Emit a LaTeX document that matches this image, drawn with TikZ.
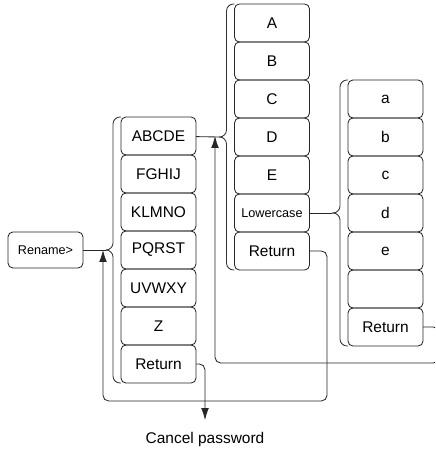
\documentclass[tikz,border=0pt]{standalone}
\usepackage{fontspec}
\setmainfont{Liberation Sans}
\usetikzlibrary{arrows.meta}

\tikzset{
    key/.style={draw=black!85, line width=0.6pt, rounded corners=3.5pt,
        minimum width=1.875cm, minimum height=0.95cm, inner sep=0pt, outer sep=0pt,
        font=\fontsize{11}{13}\selectfont},
    smallkey/.style={key, font=\fontsize{9}{11}\selectfont},
    brace/.style={draw=black!80, line width=0.6pt, rounded corners=5pt},
    link/.style={draw=black!85, line width=0.6pt},
    back/.style={link, rounded corners=4pt, -{Latex[length=8.5pt,width=5.5pt]}},
}

\begin{document}
\begin{tikzpicture}[x=0.025cm,y=-0.025cm]

    \useasboundingbox (0,0) rectangle (435,451);

    % Rename key
    \node[smallkey, minimum height=0.9cm] (rename) at (45.5,250) {Rename>};

    % uppercase groups
    \node[key] (abcde) at (158.5,136) {ABCDE};
    \node[key] (fghij) at (158.5,174) {FGHIJ};
    \node[key] (klmno) at (158.5,212) {KLMNO};
    \node[key] (pqrst) at (158.5,250) {PQRST};
    \node[key] (uvwxy) at (158.5,288) {UVWXY};
    \node[key] (z)     at (158.5,326) {Z};
    \node[key] (ret1)  at (158.5,364) {Return};

    % single letters
    \node[key] (a)     at (272,23)  {A};
    \node[key] (b)     at (272,61)  {B};
    \node[key] (c)     at (272,99)  {C};
    \node[key] (d)     at (272,137) {D};
    \node[key] (e)     at (272,175) {E};
    \node[smallkey] (lower) at (272,213) {Lowercase};
    \node[key] (ret2)  at (272,251) {Return};

    % lowercase letters
    \node[key] (la)    at (385.5,99)  {a};
    \node[key] (lb)    at (385.5,137) {b};
    \node[key] (lc)    at (385.5,175) {c};
    \node[key] (ld)    at (385.5,213) {d};
    \node[key] (le)    at (385.5,251) {e};
    \node[key] (blank) at (385.5,289) {};
    \node[key] (ret3)  at (385.5,327) {Return};

    \node[anchor=north, inner sep=0pt, font=\fontsize{11}{13}\selectfont] (cancel) at (205,432) {Cancel password};

    % brace points and arrow joins
    \coordinate (b1) at (106,250);
    \coordinate (b2) at (219,137);
    \coordinate (b3) at (332,213);
    \coordinate (j1) at (103,250);
    \coordinate (j2) at (215,136);

    % braces
    \draw[brace] (abcde.north west) -- ++(-8,0) |- (b1);
    \draw[brace] (ret1.south west) -- ++(-8,0) |- (b1);
    \draw[brace] (a.north west) -- ++(-8,0) |- (b2);
    \draw[brace] (ret2.south west) -- ++(-8,0) |- (b2);
    \draw[brace] (la.north west) -- ++(-8,0) |- (b3);
    \draw[brace] (ret3.south west) -- ++(-8,0) |- (b3);

    % menu links
    \draw[link] (rename) -- (b1);
    \draw[link] (abcde) -- (b2);
    \draw[link] (lower) -- (b3);

    % Return paths
    \draw[back, shorten >=8.5pt] (ret1.east) -| (cancel.north);
    \draw[back] (ret2.east) -| (327,401) -| (j1);
    \begin{scope}
        \clip (0,0) rectangle (435,451);
        \draw[back] (ret3.east) -| (439,363) -| (j2);
    \end{scope}

\end{tikzpicture}
\end{document}
